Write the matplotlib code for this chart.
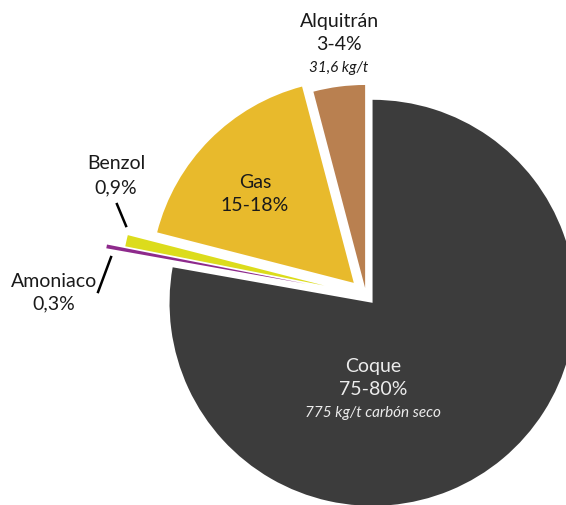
import matplotlib.pyplot as plt
import numpy as np

# products of coal carbonisation, share of output (%)
labels = ["Alquitrán", "Gas", "Benzol", "Amoniaco", "Coque"]
shares = [4.1, 16.9, 0.9, 0.3, 77.8]
ranges = ["3-4%", "15-18%", "0,9%", "0,3%", "75-80%"]
colors = ["#b98050", "#e8ba2c", "#dcdc1c", "#8e2a8c", "#3c3c3c"]
explode = [0.035, 0.085, 0.21, 0.30, 0.05]

plt.rcParams["font.family"] = ["Lato", "DejaVu Sans"]

fig = plt.figure(figsize=(5.66, 5.06), dpi=100)
ax = fig.add_axes([0, 0, 1, 1])

ax.pie(shares, colors=colors, explode=explode, startangle=90,
       counterclock=True, radius=1.0,
       wedgeprops=dict(linewidth=0))

ax.set_aspect("equal")
ax.set_xlim(-1.803, 0.985)
ax.set_ylim(-1.034, 1.458)
ax.axis("off")

fs = 14
fs_it = 11
dark = "#1a1a1a"

# Alquitrán
ax.text(-0.133, 1.325, labels[0], ha="center", va="baseline", fontsize=fs, color=dark)
ax.text(-0.133, 1.212, ranges[0], ha="center", va="baseline", fontsize=fs, color=dark)
ax.text(-0.133, 1.103, "31,6 kg/t", ha="center", va="baseline", fontsize=fs_it,
        style="italic", color=dark)

# Gas
ax.text(-0.547, 0.532, labels[1], ha="center", va="baseline", fontsize=fs, color=dark)
ax.text(-0.547, 0.419, ranges[1], ha="center", va="baseline", fontsize=fs, color=dark)

# Benzol
ax.text(-1.232, 0.626, labels[2], ha="center", va="baseline", fontsize=fs, color=dark)
ax.text(-1.232, 0.507, ranges[2], ha="center", va="baseline", fontsize=fs, color=dark)
ax.plot([-1.227, -1.182], [0.448, 0.340], color="black", lw=1.8)

# Amoniaco
ax.text(-1.537, 0.044, labels[3], ha="center", va="baseline", fontsize=fs, color=dark)
ax.text(-1.537, -0.064, ranges[3], ha="center", va="baseline", fontsize=fs, color=dark)
ax.plot([-1.256, -1.320], [0.187, 0.015], color="black", lw=1.8)

# Coque
light = "#ececec"
ax.text(0.034, -0.374, labels[4], ha="center", va="baseline", fontsize=fs, color=light)
ax.text(0.034, -0.488, ranges[4], ha="center", va="baseline", fontsize=fs, color=light)
ax.text(0.034, -0.596, "775 kg/t carbón seco", ha="center", va="baseline",
        fontsize=fs_it, style="italic", color=light)

fig.savefig("out.png", dpi=100)
